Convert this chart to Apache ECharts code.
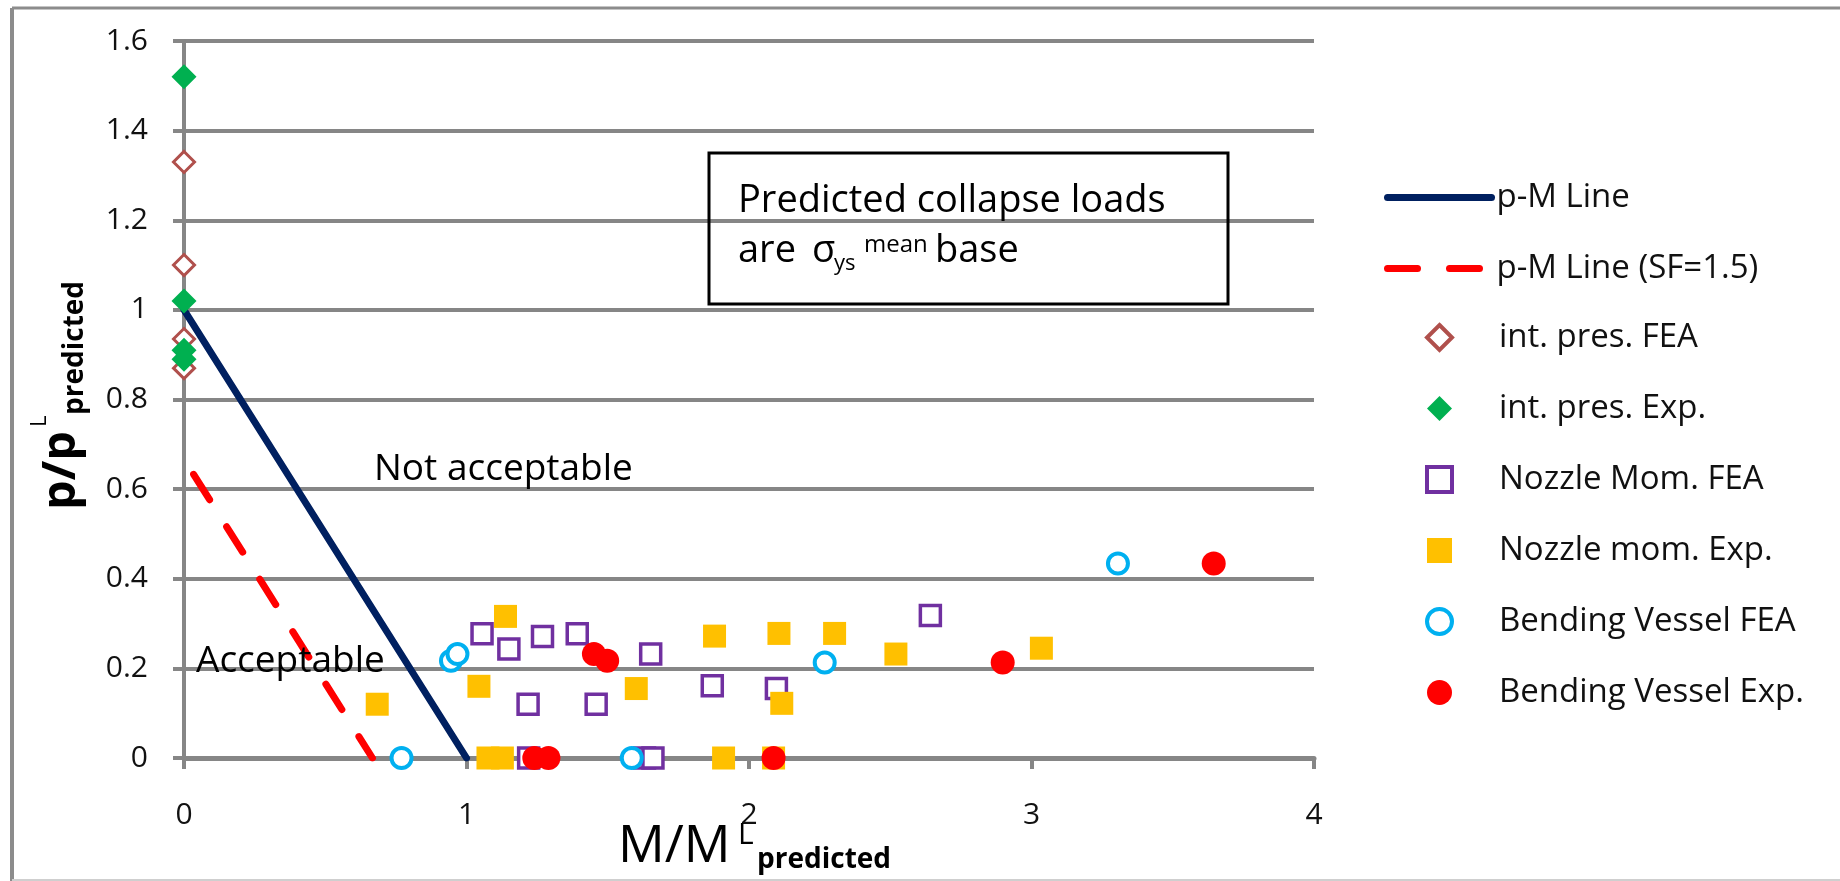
<!DOCTYPE html>
<html>
<head>
<meta charset="utf-8">
<script src="https://cdn.jsdelivr.net/npm/echarts@6/dist/echarts.min.js"></script>
<style>
html,body{margin:0;padding:0;background:#fff;}
#chart{width:1840px;height:881px;}
</style>
</head>
<body>
<div id="chart"></div>
<script>
// ---- data ----
const xTickLabels = ['0', '1', '2', '3', '4'];
const yTickLabels = ['0', '0.2', '0.4', '0.6', '0.8', '1', '1.2', '1.4', '1.6'];

const pmLineX = [0, 1];
const pmLineY = [1, 0];
const pmSFLineX = [0, 0.667];
const pmSFLineY = [0.667, 0];

const intPresFEAX = [0, 0, 0, 0];
const intPresFEAY = [1.33, 1.10, 0.935, 0.87];

const intPresExpX = [0, 0, 0, 0];
const intPresExpY = [1.52, 1.02, 0.91, 0.89];

const nozzleFEAX = [1.055, 1.15, 1.269, 1.392, 1.218, 1.459, 1.652, 1.87, 2.097, 2.642, 1.22, 1.63, 1.66];
const nozzleFEAY = [0.277, 0.243, 0.271, 0.277, 0.12, 0.12, 0.232, 0.161, 0.155, 0.318, 0, 0, 0];

const nozzleExpX = [0.684, 1.138, 1.044, 1.076, 1.127, 1.601, 1.878, 2.106, 2.303, 2.52, 3.035, 2.116, 1.91, 2.087];
const nozzleExpY = [0.12, 0.316, 0.16, 0, 0, 0.155, 0.272, 0.278, 0.278, 0.232, 0.245, 0.122, 0, 0];

const bendFEAX = [0.945, 0.968, 0.77, 1.585, 2.268, 3.306];
const bendFEAY = [0.217, 0.232, 0, 0, 0.213, 0.434];

const bendExpX = [1.451, 1.498, 1.24, 1.29, 2.087, 2.898, 3.645];
const bendExpY = [0.232, 0.217, 0, 0, 0, 0.213, 0.434];

const seriesNames = ['p-M Line', 'p-M Line (SF=1.5)', 'int. pres. FEA', 'int. pres. Exp.',
  'Nozzle Mom. FEA', 'Nozzle mom. Exp.', 'Bending Vessel FEA', 'Bending Vessel Exp.'];

// ---- helpers ----
const zip = (xs, ys) => xs.map((x, i) => [x, ys[i]]);
const FONT = 'Open Sans';
const GRID = '#868686';

const chart = echarts.init(document.getElementById('chart'), null, {renderer: 'canvas'});

const legendText = {fontFamily: FONT, fontSize: 33, color: '#111'};

const option = {
  animation: false,
  backgroundColor: '#ffffff',
  grid: {left: 184, right: 526, top: 41, bottom: 123, containLabel: false},
  xAxis: {
    type: 'value', min: 0, max: 4, interval: 1,
    splitLine: {show: false},
    axisLine: {show: true, onZero: false, lineStyle: {color: GRID, width: 5}},
    axisTick: {show: true, length: 11, lineStyle: {color: GRID, width: 4}},
    axisLabel: {
      margin: 42, fontFamily: FONT, fontSize: 30, color: '#111',
      formatter: v => xTickLabels[Math.round(v)]
    }
  },
  yAxis: {
    type: 'value', min: 0, max: 1.6, interval: 0.2,
    splitLine: {show: true, lineStyle: {color: GRID, width: 4}},
    axisLine: {show: true, onZero: false, lineStyle: {color: GRID, width: 4}},
    axisTick: {show: true, length: 11, lineStyle: {color: GRID, width: 4}},
    axisLabel: {
      margin: 36, fontFamily: FONT, fontSize: 30, color: '#111',
      formatter: v => yTickLabels[Math.round(v / 0.2)]
    }
  },
  legend: [
    {
      orient: 'vertical', left: 1379, top: 176,
      itemWidth: 104, itemHeight: 25, itemGap: 38,
      textStyle: legendText,
      data: [
        {name: seriesNames[0], lineStyle: {width: 7}, itemStyle: {opacity: 0}},
        {name: seriesNames[1], lineStyle: {width: 7, dashOffset: 0}, itemStyle: {opacity: 0}}
      ]
    },
    {
      orient: 'vertical', left: 1420, top: 316,
      itemWidth: 25, itemHeight: 25, itemGap: 38,
      textStyle: Object.assign({padding: [0, 0, 0, 42]}, legendText),
      data: [
        {name: seriesNames[2], itemStyle: {borderWidth: 4}},
        {name: seriesNames[3]},
        {name: seriesNames[4], itemStyle: {borderWidth: 4}},
        {name: seriesNames[5]},
        {name: seriesNames[6], itemStyle: {borderWidth: 4}},
        {name: seriesNames[7]}
      ]
    }
  ],
  series: [
    {
      name: seriesNames[0], type: 'line', data: zip(pmLineX, pmLineY),
      symbol: 'none', color: '#002060',
      lineStyle: {color: '#002060', width: 7, cap: 'round'}, z: 3
    },
    {
      name: seriesNames[1], type: 'line', data: zip(pmSFLineX, pmSFLineY),
      symbol: 'none', color: '#FF0000',
      lineStyle: {color: '#FF0000', width: 7, type: [30, 32], dashOffset: 44, cap: 'round'}, z: 3
    },
    {
      name: seriesNames[2], type: 'scatter', data: zip(intPresFEAX, intPresFEAY),
      symbol: 'diamond', symbolSize: 21,
      itemStyle: {color: '#ffffff', borderColor: '#B0504C', borderWidth: 3, opacity: 1}, z: 4
    },
    {
      name: seriesNames[3], type: 'scatter', data: zip(intPresExpX, intPresExpY),
      symbol: 'diamond', symbolSize: 25, color: '#00B050',
      itemStyle: {color: '#00B050', opacity: 1}, z: 4
    },
    {
      name: seriesNames[4], type: 'scatter', data: zip(nozzleFEAX, nozzleFEAY),
      symbol: 'rect', symbolSize: 20,
      itemStyle: {color: '#ffffff', borderColor: '#7030A0', borderWidth: 3.5, opacity: 1}, z: 4
    },
    {
      name: seriesNames[5], type: 'scatter', data: zip(nozzleExpX, nozzleExpY),
      symbol: 'rect', symbolSize: 23, color: '#FFC000',
      itemStyle: {color: '#FFC000', opacity: 1}, z: 4
    },
    {
      name: seriesNames[6], type: 'scatter', data: zip(bendFEAX, bendFEAY),
      symbol: 'circle', symbolSize: 20,
      itemStyle: {color: '#ffffff', borderColor: '#00B0F0', borderWidth: 4, opacity: 1}, z: 4
    },
    {
      name: seriesNames[7], type: 'scatter', data: zip(bendExpX, bendExpY),
      symbol: 'circle', symbolSize: 24, color: '#FF0000',
      itemStyle: {color: '#FF0000', opacity: 1}, z: 4
    }
  ],
  graphic: [
    // outer frame
    {type: 'line', silent: true, shape: {x1: 12, y1: 8, x2: 1840, y2: 8}, style: {stroke: '#8c8c8c', lineWidth: 3}},
    {type: 'line', silent: true, shape: {x1: 12, y1: 8, x2: 12, y2: 881}, style: {stroke: '#8c8c8c', lineWidth: 4}},
    {type: 'line', silent: true, shape: {x1: 12, y1: 880, x2: 1840, y2: 880}, style: {stroke: '#cfcfcf', lineWidth: 2}},
    // annotation box
    {type: 'rect', silent: true, z: 10, shape: {x: 709, y: 153, width: 519, height: 151},
      style: {fill: null, stroke: '#000', lineWidth: 3}},
    {type: 'text', silent: true, z: 10, x: 738, y: 201,
      style: {text: 'Predicted collapse loads', fontFamily: FONT, fontSize: 38, fill: '#000', align: 'left', verticalAlign: 'middle'}},
    {type: 'text', silent: true, z: 10, x: 738, y: 251,
      style: {text: 'are', fontFamily: FONT, fontSize: 38, fill: '#000', align: 'left', verticalAlign: 'middle'}},
    {type: 'text', silent: true, z: 10, x: 812, y: 251,
      style: {text: 'σ', fontFamily: FONT, fontSize: 38, fill: '#000', align: 'left', verticalAlign: 'middle'}},
    {type: 'text', silent: true, z: 10, x: 834, y: 264,
      style: {text: 'ys', fontFamily: FONT, fontSize: 22, fill: '#000', align: 'left', verticalAlign: 'middle'}},
    {type: 'text', silent: true, z: 10, x: 864, y: 245,
      style: {text: 'mean', fontFamily: FONT, fontSize: 24, fill: '#000', align: 'left', verticalAlign: 'middle'}},
    {type: 'text', silent: true, z: 10, x: 935, y: 251,
      style: {text: 'base', fontFamily: FONT, fontSize: 38, fill: '#000', align: 'left', verticalAlign: 'middle'}},
    // region annotations
    {type: 'text', silent: true, z: 10, x: 374, y: 469,
      style: {text: 'Not acceptable', fontFamily: FONT, fontSize: 37, fill: '#000', align: 'left', verticalAlign: 'middle'}},
    {type: 'text', silent: true, z: 10, x: 196, y: 661,
      style: {text: 'Acceptable', fontFamily: FONT, fontSize: 37, fill: '#000', align: 'left', verticalAlign: 'middle'}},
    // x axis title
    {type: 'text', silent: true, z: 10, x: 618, y: 847,
      style: {text: 'M/M', fontFamily: FONT, fontSize: 52, fill: '#000', align: 'left', verticalAlign: 'middle'}},
    {type: 'text', silent: true, z: 10, x: 738, y: 835,
      style: {text: 'L', fontFamily: FONT, fontSize: 30, fill: '#000', align: 'left', verticalAlign: 'middle'}},
    {type: 'text', silent: true, z: 10, x: 757, y: 860,
      style: {text: 'predicted', fontFamily: FONT, fontSize: 28, fontWeight: 'bold', fill: '#000', align: 'left', verticalAlign: 'middle'}},
    // y axis title (rotated)
    {type: 'group', silent: true, x: 0, y: 510, rotation: Math.PI / 2, z: 10, children: [
      {type: 'text', x: 0, y: 62,
        style: {text: 'p/p', fontFamily: FONT, fontSize: 47, fontWeight: 'bold', fill: '#000', align: 'left', verticalAlign: 'middle'}},
      {type: 'text', x: 83, y: 40,
        style: {text: 'L', fontFamily: FONT, fontSize: 22, fill: '#000', align: 'left', verticalAlign: 'middle'}},
      {type: 'text', x: 95, y: 75,
        style: {text: 'predicted', fontFamily: FONT, fontSize: 28, fontWeight: 'bold', fill: '#000', align: 'left', verticalAlign: 'middle'}}
    ]}
  ]
};

chart.setOption(option);
</script>
</body>
</html>
